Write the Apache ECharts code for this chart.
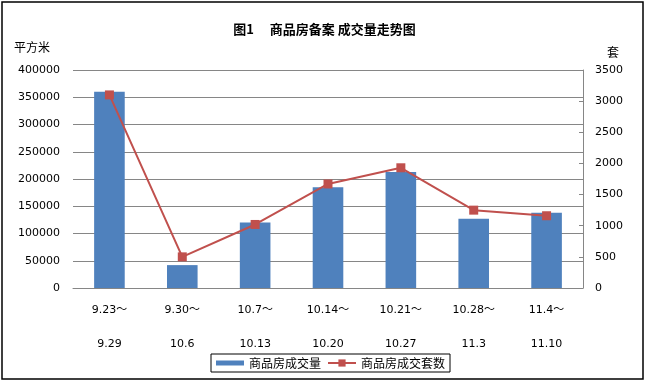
<!DOCTYPE html>
<html>
<head>
<meta charset="utf-8">
<script src="https://cdn.jsdelivr.net/npm/echarts@6/dist/echarts.min.js"></script>
<style>html,body{margin:0;padding:0;background:#fff;}#c{width:649px;height:385px;}</style>
</head>
<body>
<div id="c"></div>
<script>
var categoriesStart = ['9.23～', '9.30～', '10.7～', '10.14～', '10.21～', '10.28～', '11.4～'];
var categoriesEnd = ['9.29', '10.6', '10.13', '10.20', '10.27', '11.3', '11.10'];
var areaValues = [360000, 42000, 120000, 185000, 213000, 127000, 138000];
var unitValues = [3100, 500, 1020, 1670, 1930, 1250, 1160];
var leftTicks = [0, 400000, 50000];
var rightTicks = [0, 3500, 500];

var categories = categoriesStart.map(function (s, i) { return s + '\n\n' + categoriesEnd[i]; });
var CJK = '"Noto Sans CJK SC", "DejaVu Sans", sans-serif';
var NUM = '"DejaVu Sans", "Noto Sans CJK SC", sans-serif';
function plain(v) { return String(v); }

var chart = echarts.init(document.getElementById('c'), null, {renderer: 'canvas'});
chart.setOption({
  backgroundColor: '#fff',
  animation: false,
  title: {
    text: '图1\u3000 商品房备案 成交量走势图',
    left: 'center',
    top: 16,
    textStyle: {fontFamily: CJK, fontSize: 13, fontWeight: 'bold', color: '#000', lineHeight: 16}
  },
  graphic: [{
    type: 'rect', shape: {x: 2, y: 2, width: 641, height: 377},
    style: {fill: 'none', stroke: '#000', lineWidth: 1.5}, silent: true, z: -1
  }],
  legend: {
    left: 211, top: 354,
    padding: [3, 5, 3, 5],
    borderColor: '#000', borderWidth: 1,
    itemWidth: 28, itemHeight: 9, itemGap: 6,
    textStyle: {fontFamily: CJK, fontSize: 12, color: '#000'},
    data: [
      {name: '商品房成交量', icon: 'path://M0,0 L28,0 L28,5 L0,5 Z'},
      {name: '商品房成交套数'}
    ]
  },
  grid: {left: 73, right: 66, top: 70, bottom: 97, containLabel: false},
  xAxis: {
    type: 'category',
    data: categories,
    axisLine: {show: true, lineStyle: {color: '#868686', width: 1}},
    axisTick: {show: false},
    axisLabel: {
      interval: 0, margin: 14, fontFamily: NUM, fontSize: 11, color: '#000', lineHeight: 17
    }
  },
  yAxis: [{
    type: 'value',
    min: leftTicks[0], max: leftTicks[1], interval: leftTicks[2],
    name: '平方米', nameLocation: 'end', nameGap: 23,
    nameTextStyle: {fontFamily: CJK, fontSize: 12, color: '#000', align: 'right', verticalAlign: 'middle', padding: [0, 23, 0, 0]},
    axisLine: {show: false},
    axisTick: {show: false},
    axisLabel: {margin: 13, fontFamily: NUM, fontSize: 11, color: '#000', formatter: plain},
    splitLine: {show: true, lineStyle: {color: '#868686', width: 1}}
  }, {
    type: 'value',
    position: 'right',
    min: rightTicks[0], max: rightTicks[1], interval: rightTicks[2],
    name: '套', nameLocation: 'end', nameGap: 18,
    nameTextStyle: {fontFamily: CJK, fontSize: 12, color: '#000', align: 'left', verticalAlign: 'middle', padding: [0, 0, 0, 24]},
    axisLine: {show: true, lineStyle: {color: '#868686', width: 1}},
    axisTick: {show: true, inside: true, length: 4, lineStyle: {color: '#868686'}},
    axisLabel: {margin: 12, fontFamily: NUM, fontSize: 11, color: '#000', formatter: plain},
    splitLine: {show: false}
  }],
  series: [{
    name: '商品房成交量',
    type: 'bar',
    yAxisIndex: 0,
    barWidth: '42%',
    itemStyle: {color: '#4F81BD'},
    data: areaValues
  }, {
    name: '商品房成交套数',
    type: 'line',
    yAxisIndex: 1,
    symbol: 'rect',
    symbolSize: 9,
    lineStyle: {color: '#C0504D', width: 2},
    itemStyle: {color: '#C0504D'},
    data: unitValues
  }]
});
</script>
</body>
</html>
